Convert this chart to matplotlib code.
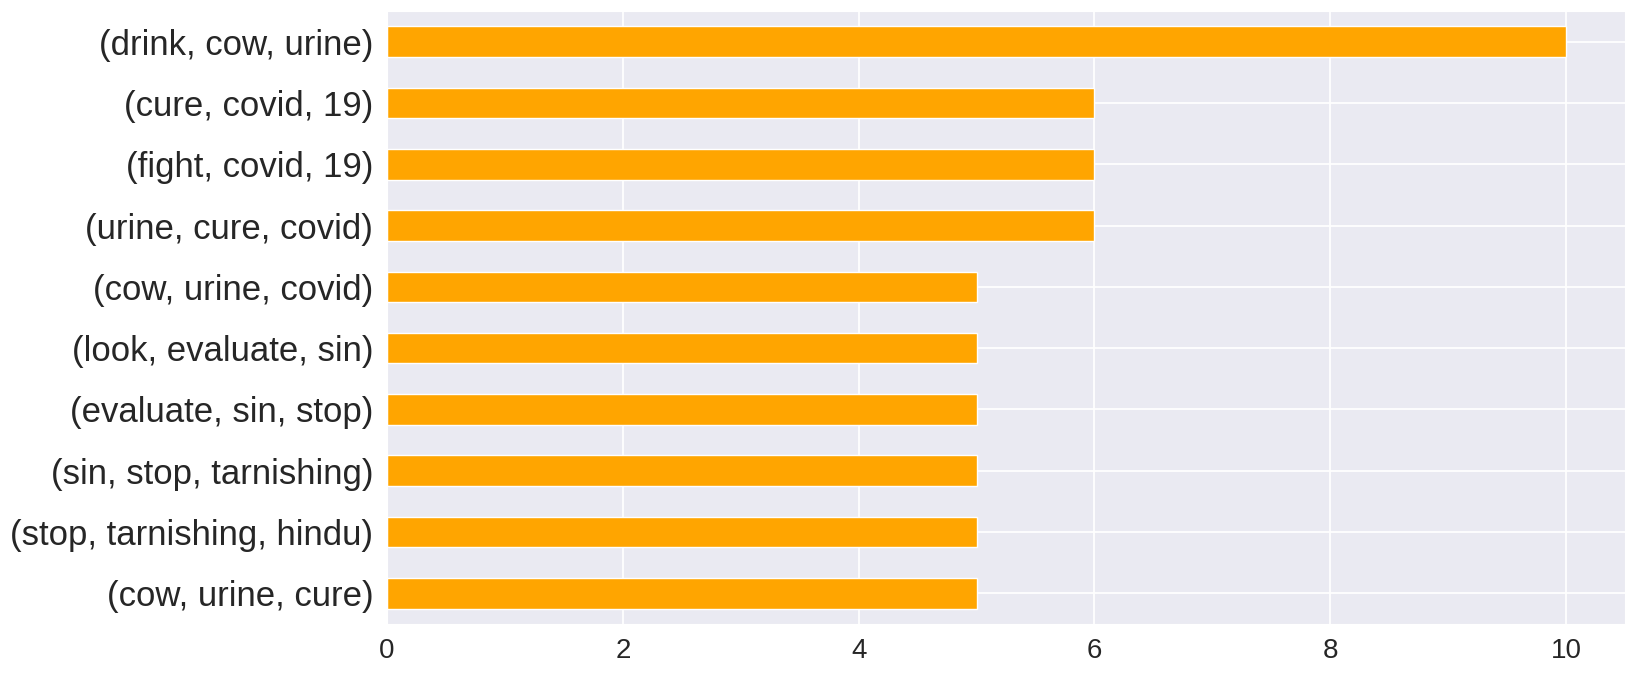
"""Plot the most frequent trigrams as a horizontal bar chart."""

import matplotlib

matplotlib.use("Agg")

import matplotlib.pyplot as plt
import pandas as pd
import seaborn as sns


TRIGRAMS = [
    "(drink, cow, urine)",
    "(cure, covid, 19)",
    "(fight, covid, 19)",
    "(urine, cure, covid)",
    "(cow, urine, covid)",
    "(look, evaluate, sin)",
    "(evaluate, sin, stop)",
    "(sin, stop, tarnishing)",
    "(stop, tarnishing, hindu)",
    "(cow, urine, cure)",
]
COUNTS = [10, 6, 6, 6, 5, 5, 5, 5, 5, 5]
X_TICKS = [0, 2, 4, 6, 8, 10]

OUTPUT_PATH = "out.png"


def main() -> None:
    """Draw and save the chart."""

    sns.set_style("darkgrid")
    plt.rcParams["font.family"] = ["Liberation Sans", "DejaVu Sans"]

    counts = pd.Series(COUNTS, index=TRIGRAMS)

    fig = plt.figure(figsize=(16.36, 6.75), dpi=100)
    ax = fig.add_axes([0.2366, 0.0756, 0.9933 - 0.2366, 0.9837 - 0.0756])

    # pandas draws the first row at the bottom, so reverse for top-down order
    counts[::-1].plot(
        kind="barh",
        ax=ax,
        color="orange",
        edgecolor="white",
        linewidth=1,
    )

    ax.set_xticks(X_TICKS)
    ax.set_xlim(0, 10.5)
    ax.tick_params(axis="y", labelsize=25, length=0, pad=10, colors="#262626")
    ax.tick_params(axis="x", labelsize=20, length=0, pad=10, colors="#262626")
    ax.grid(True, color="white", linewidth=1.3)

    fig.savefig(OUTPUT_PATH, dpi=100)
    plt.close(fig)


if __name__ == "__main__":
    main()
